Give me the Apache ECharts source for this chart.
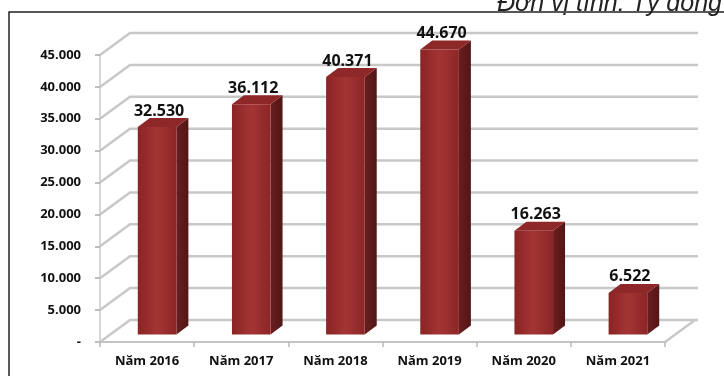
<!DOCTYPE html>
<html><head><meta charset="utf-8">
<script src="https://cdn.jsdelivr.net/npm/echarts@6/dist/echarts.min.js"></script>
<style>html,body{margin:0;padding:0;background:#fff}#c{width:724px;height:376px}</style>
</head><body><div id="c"></div>
<script>
const categories = ['Năm 2016', 'Năm 2017', 'Năm 2018', 'Năm 2019', 'Năm 2020', 'Năm 2021'];
const values = [32530, 36112, 40371, 44670, 16263, 6522];
const yTicks = [0, 5000, 10000, 15000, 20000, 25000, 30000, 35000, 40000, 45000];
const unitText = 'Đơn vị tính: Tỷ đồng';

const FONT = 'Open Sans';
const DX = 30, DY = -22;       // wall depth
function fmt(v) { return v === 0 ? '-' : (v / 1000).toFixed(3); }

const chart = echarts.init(document.getElementById('c'), null, { renderer: 'canvas' });
chart.setOption({
  animation: false,
  backgroundColor: '#fff',
  grid: { left: 100, right: 59, top: 55, bottom: 34 },
  xAxis: {
    type: 'category', data: categories,
    axisLine: { lineStyle: { color: '#c4c4c4', width: 2 } },
    axisTick: { show: true, length: 5, lineStyle: { color: '#b8b8b8', width: 1.5 } },
    axisLabel: { fontFamily: FONT, fontWeight: 'bold', fontSize: 13, color: '#111', margin: 13 },
    z: 5
  },
  yAxis: {
    type: 'value', min: 0, max: 45000, interval: 5000,
    axisLine: { show: true, lineStyle: { color: '#c8c8c8', width: 1.5 } },
    axisTick: { show: true, length: 5, lineStyle: { color: '#a8a8a8', width: 1.5 } },
    splitLine: { show: false },
    axisLabel: { formatter: fmt, fontFamily: FONT, fontWeight: 'bold', fontSize: 13, color: '#111', margin: 19 }
  },
  graphic: [
    { type: 'rect', shape: { x: 9, y: 12, width: 760, height: 420 }, style: { fill: null, stroke: '#222', lineWidth: 1.5 }, z: 100 },
    { type: 'text', x: 497, y: 17, style: { text: unitText, fontFamily: 'Liberation Sans', fontStyle: 'italic', fontSize: 25, fill: '#222', verticalAlign: 'bottom', align: 'left' }, z: 100 }
  ],
  series: [
    {
      type: 'custom', z: 1, silent: true,
      data: yTicks.map(v => [0, v]),
      renderItem: function (params, api) {
        const cs = params.coordSys;
        const y = api.coord([0, api.value(1)])[1];
        const x0 = cs.x, x1 = cs.x + cs.width;
        const children = [{
          type: 'polyline',
          shape: { points: [[x0, y], [x0 + DX, y + DY], [x1 + DX + 3, y + DY]] },
          style: { stroke: '#c8c8c8', lineWidth: 2.5, fill: null }
        }];
        if (api.value(1) === 0) {
          children.push({ type: 'line', shape: { x1: x1, y1: y, x2: x1 + DX, y2: y + DY }, style: { stroke: '#c8c8c8', lineWidth: 2.5 } });
        }
        return { type: 'group', children: children };
      }
    },
    {
      type: 'custom', z: 3, silent: true,
      data: values.map((v, i) => [i, v]),
      renderItem: function (params, api) {
        const i = api.value(0), v = api.value(1);
        const top = api.coord([i, v]), base = api.coord([i, 0]);
        const band = api.size([1, 0])[0];
        const w = band * 0.41;
        const cx = top[0] + 10;
        const L = cx - w / 2, R = cx + w / 2;
        const B = base[1] - 7.5, T = top[1] - 7.5;
        const sx = 12, sy = -9;
        return {
          type: 'group', children: [
            { type: 'polygon', shape: { points: [[R, T], [R + sx, T + sy], [R + sx, B + sy], [R, B]] },
              style: { fill: new echarts.graphic.LinearGradient(0, 0, 1, 0, [{ offset: 0, color: '#6a1e1e' }, { offset: 1, color: '#521616' }]) } },
            { type: 'polygon', shape: { points: [[L, T], [R, T], [R + sx, T + sy], [L + sx, T + sy]] },
              style: { fill: '#8e2727' } },
            { type: 'rect', shape: { x: L, y: T, width: w, height: B - T },
              style: { fill: new echarts.graphic.LinearGradient(0, 0, 1, 0, [{ offset: 0, color: '#8a2424' }, { offset: 0.5, color: '#a43434' }, { offset: 1, color: '#8c2626' }]) } },
            { type: 'text', x: cx + 2, y: T + sy + 1,
              style: { text: fmt(v), fontFamily: FONT, fontWeight: 'bold', fontSize: 16, fill: '#111', align: 'center', verticalAlign: 'bottom' } }
          ]
        };
      }
    }
  ]
});
</script></body></html>
